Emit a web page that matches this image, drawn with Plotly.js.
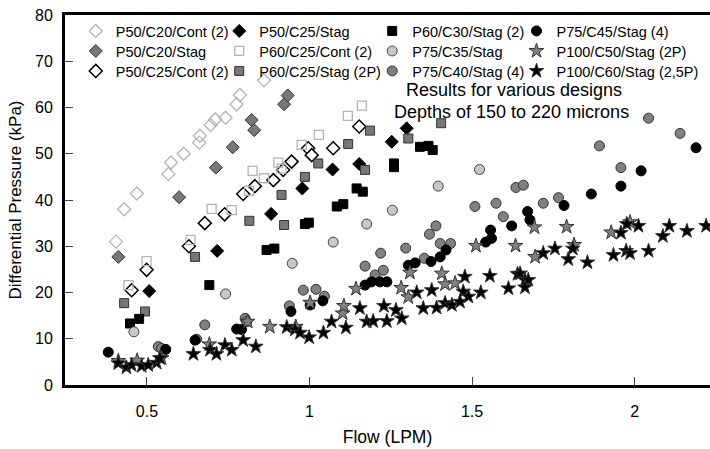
<!DOCTYPE html>
<html><head><meta charset="utf-8">
<script src="https://cdn.plot.ly/plotly-3.0.1.min.js"></script>
<style>html,body{margin:0;padding:0;background:#fff}#chart{width:710px;height:449px}</style>
</head><body><div id="chart"></div>
<script>
// ---- data (Flow LPM, Differential Pressure kPa) ----
const names = ["P50/C20/Cont (2)","P50/C20/Stag","P50/C25/Cont (2)","P50/C25/Stag","P60/C25/Cont (2)","P60/C25/Stag (2P)","P60/C30/Stag (2)","P75/C35/Stag","P75/C40/Stag (4)","P75/C45/Stag (4)","P100/C50/Stag (2P)","P100/C60/Stag (2,5P)"];

const s1x = [0.405,0.430,0.469,0.566,0.574,0.613,0.661,0.663,0.696,0.710,0.742,0.776,0.786,0.860];
const s1y = [31.0,38.0,41.4,45.6,48.1,50.0,52.4,53.9,56.2,57.4,57.8,60.7,62.7,65.9];

const s2x = [0.412,0.599,0.712,0.764,0.822,0.830,0.922,0.933];
const s2y = [27.7,40.6,47.0,51.4,57.3,55.1,60.7,62.6];

const s3x = [0.453,0.499,0.629,0.678,0.739,0.796,0.832,0.889,0.919,0.945,0.996,1.007,1.073,1.153];
const s3y = [20.5,24.9,30.0,35.0,36.9,41.3,43.0,44.3,46.5,48.3,51.2,49.7,51.2,55.9];

const s4x = [0.507,0.716,0.882,0.978,1.071,1.153,1.253,1.299];
const s4y = [20.3,29.0,37.0,42.5,46.6,47.8,52.6,55.5];

const s5x = [0.443,0.499,0.634,0.699,0.761,0.814,0.825,0.860,0.904,0.914,0.976,1.029,1.118,1.161];
const s5y = [21.6,26.8,31.4,38.1,37.8,42.0,46.3,44.7,48.1,46.8,51.9,54.1,58.2,60.4];

const s6x = [0.430,0.494,0.648,0.815,0.914,0.922,0.986,1.027,1.119,1.171,1.186,1.304,1.405];
const s6y = [17.7,15.9,27.7,35.5,41.1,34.6,45.0,47.9,52.1,46.5,55.0,53.3,56.6];

const s7x = [0.448,0.476,0.692,0.868,0.892,0.986,0.998,1.084,1.104,1.145,1.164,1.260,1.260,1.340,1.366,1.379];
const s7y = [13.3,14.3,21.6,29.2,29.5,34.8,35.1,38.6,39.1,42.5,41.8,47.9,47.1,51.5,51.7,50.8];

const s8x = [0.460,0.742,0.947,1.073,1.176,1.255,1.396,1.523];
const s8y = [11.5,19.7,26.3,30.9,34.8,37.8,43.0,46.6];

const s9x = [0.535,0.545,0.653,0.678,0.802,0.807,0.938,0.981,1.020,1.046,1.171,1.202,1.219,1.227,1.296,1.353,1.369,1.389,1.402,1.434,1.509,1.574,1.596,1.635,1.658,1.719,1.766,1.892,1.958,2.043,2.140];
const s9y = [8.3,7.9,9.9,13.0,14.4,13.7,17.1,20.5,20.7,19.2,25.7,23.8,28.5,24.8,29.6,27.4,32.6,34.4,30.6,30.6,38.6,39.3,36.4,42.7,43.2,39.3,40.5,51.7,47.0,57.7,54.4];

const s10x = [0.381,0.558,0.648,0.776,0.791,0.943,1.002,1.041,1.171,1.191,1.217,1.238,1.304,1.325,1.374,1.402,1.420,1.542,1.557,1.560,1.622,1.671,1.678,1.783,1.867,1.958,2.020,2.189];
const s10y = [7.1,7.7,9.7,12.1,12.0,15.9,17.3,18.2,21.6,22.3,22.3,22.3,25.9,26.4,26.7,27.7,29.2,30.9,33.5,31.7,34.4,37.5,35.7,38.8,41.3,43.0,46.3,51.3];

const s11x = [0.412,0.470,0.545,0.692,0.810,0.878,0.958,1.002,1.102,1.106,1.143,1.282,1.304,1.309,1.407,1.417,1.448,1.512,1.634,1.692,1.694,1.791,1.814,1.928,1.986];
const s11y = [5.2,5.3,5.8,8.8,13.7,12.6,12.6,17.8,15.5,17.1,20.8,21.0,19.0,24.3,24.1,21.8,22.0,30.1,30.1,34.1,27.7,34.2,30.3,33.0,35.2];

const s12x = [0.412,0.437,0.453,0.484,0.504,0.530,0.540,0.643,0.694,0.714,0.740,0.761,0.796,0.835,0.930,0.955,0.971,0.999,1.043,1.068,1.112,1.155,1.176,1.196,1.229,1.238,1.266,1.284,1.330,1.350,1.376,1.391,1.417,1.438,1.463,1.473,1.478,1.489,1.527,1.555,1.612,1.640,1.648,1.663,1.673,1.663,1.719,1.755,1.796,1.810,1.855,1.935,1.958,1.976,1.974,1.986,2.012,2.043,2.087,2.107,2.161,2.220];
const s12y = [4.7,3.8,4.3,4.1,4.3,4.8,5.8,6.7,7.6,6.7,8.6,7.6,9.7,8.3,12.5,12.0,11.3,10.3,11.3,13.7,12.4,16.6,13.7,13.8,17.1,13.8,16.2,14.4,20.0,16.6,20.5,16.7,17.7,17.3,18.0,20.2,23.4,19.1,20.0,23.6,20.9,24.0,24.1,22.7,22.7,21.1,28.5,29.5,27.2,29.5,26.5,28.1,32.9,34.8,29.0,28.5,34.4,29.0,32.2,34.4,33.3,34.4];

const xTickVals = [0.5,1,1.5,2];
const xTickText = ["0.5","1","1.5","2"];
const yTickVals = [0,10,20,30,40,50,60,70,80];

// ---- styling ----
const FONT = "Liberation Sans, Arial, sans-serif";
const styles = [
  {sym:"diamond-open", size:10, color:"#b4b4b4", lc:"#b4b4b4", lw:1.3},
  {sym:"diamond", size:10, color:"#777777", lc:"#333333", lw:1},
  {sym:"diamond", size:10, color:"#ffffff", lc:"#000000", lw:1.5},
  {sym:"diamond", size:10, color:"#000000", lc:"#000000", lw:1},
  {sym:"square-open", size:9, color:"#b4b4b4", lc:"#b4b4b4", lw:1.3},
  {sym:"square", size:9, color:"#777777", lc:"#333333", lw:1},
  {sym:"square", size:9, color:"#000000", lc:"#000000", lw:1},
  {sym:"circle", size:10, color:"#c8c8c8", lc:"#444444", lw:1},
  {sym:"circle", size:10, color:"#808080", lc:"#333333", lw:1},
  {sym:"circle", size:10, color:"#000000", lc:"#000000", lw:1},
  {sym:"star", size:11, color:"#808080", lc:"#333333", lw:1},
  {sym:"star", size:11, color:"#000000", lc:"#333333", lw:1}
];
const xs = [s1x,s2x,s3x,s4x,s5x,s6x,s7x,s8x,s9x,s10x,s11x,s12x];
const ys = [s1y,s2y,s3y,s4y,s5y,s6y,s7y,s8y,s9y,s10y,s11y,s12y];

// legend grid: 4 columns x 3 rows, column-major
const legColX = [0.0167, 0.2391, 0.4763, 0.7000];
const legRowY = [1.0, 0.9459, 0.8919];

const legendKey = i => i === 0 ? "legend" : "legend" + (i + 1);

const traces = names.map((n,i)=>({
  type:"scatter", mode:"markers", name:n, x:xs[i], y:ys[i],
  legend: legendKey(i),
  marker:{symbol:styles[i].sym, size:styles[i].size, color:styles[i].color,
          line:{color:styles[i].lc, width:styles[i].lw}}
}));

const layout = {
  width:710, height:449,
  margin:{l:65, r:0, t:15, b:64},
  paper_bgcolor:"#fff", plot_bgcolor:"#fff",
  font:{family:FONT, color:"#000"},
  showlegend:true,
  xaxis:{range:[0.248,2.232], tickvals:xTickVals, ticktext:xTickText,
    ticks:"inside", ticklen:8, tickwidth:1, tickcolor:"#444",
    showline:true, linewidth:3, linecolor:"#000", mirror:true,
    showgrid:false, zeroline:false, ticklabelstandoff:10,
    tickfont:{family:FONT, size:16, color:"#000"},
    title:{text:"Flow (LPM)", font:{family:FONT, size:17.5, color:"#000"}, standoff:12}},
  yaxis:{range:[0,80], tickvals:yTickVals,
    ticks:"inside", ticklen:8, tickwidth:1, tickcolor:"#444",
    showline:true, linewidth:3, linecolor:"#000",
    showgrid:false, zeroline:false, ticklabelstandoff:6,
    tickfont:{family:FONT, size:16, color:"#000"},
    title:{text:"Differential Pressure (kPa)", font:{family:FONT, size:17, color:"#000"}, standoff:10}},
  annotations:[
    {text:"Results for various designs", xref:"paper", yref:"paper", x:0.6961, y:0.7973,
     xanchor:"center", yanchor:"middle", showarrow:false, font:{family:FONT, size:18, color:"#000"}},
    {text:"Depths of 150 to 220 microns", xref:"paper", yref:"paper", x:0.6930, y:0.7378,
     xanchor:"center", yanchor:"middle", showarrow:false, font:{family:FONT, size:18, color:"#000"}}
  ]
};

names.forEach((n,i)=>{
  layout[legendKey(i)] = {
    orientation:"v", xanchor:"left", yanchor:"top", bgcolor:"rgba(0,0,0,0)",
    x: legColX[Math.floor(i/3)], y: legRowY[i%3],
    font:{family:FONT, size:14.5, color:"#000"}, itemclick:false
  };
});

Plotly.newPlot("chart", traces, layout, {staticPlot:true, displayModeBar:false});
</script></body></html>
